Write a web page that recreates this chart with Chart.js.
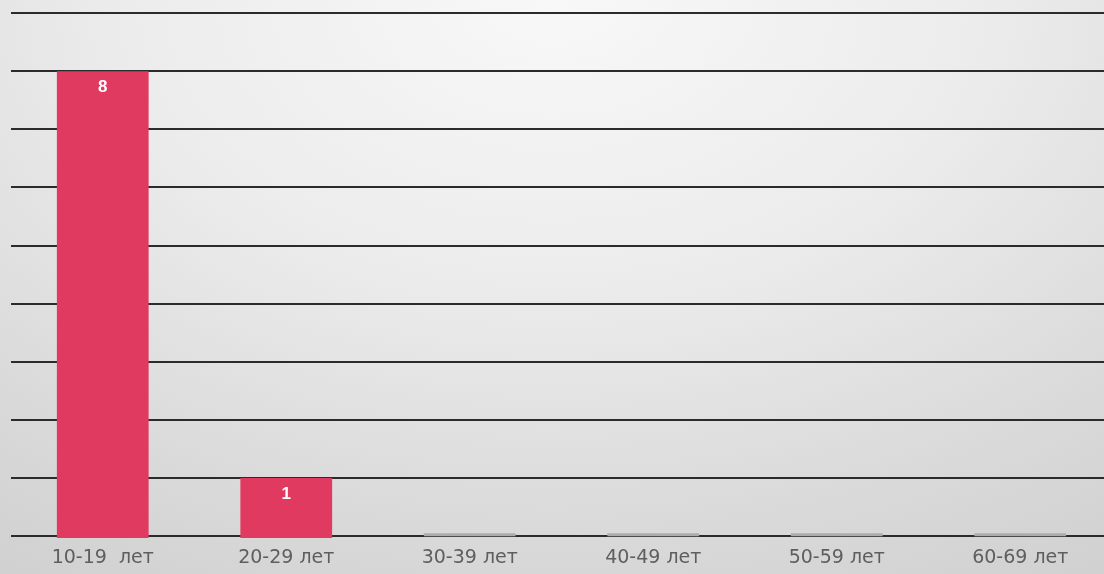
<!DOCTYPE html>
<html>
<head>
<meta charset="utf-8">
<script src="https://cdn.jsdelivr.net/npm/chart.js@4/dist/chart.umd.min.js"></script>
<style>
  html, body { margin: 0; padding: 0; overflow: hidden; }
  body {
    width: 1104px; height: 574px;
    background: radial-gradient(ellipse 110% 140% at 50% 0%, #f8f8f8 0%, #ececec 35%, #dadada 65%, #c9c9c9 100%);
  }
  #wrap { position: absolute; left: 0; top: 0; width: 1112px; height: 574px; }
</style>
</head>
<body>
<div id="wrap"><canvas id="ageChart"></canvas></div>
<script>
var AGE_LABELS = ["10-19  лет", "20-29 лет", "30-39 лет", "40-49 лет", "50-59 лет", "60-69 лет"];
var AGE_COUNTS = [8, 1, 0, 0, 0, 0];
var Y_MAX = 9;
var BAR_COLOR = 'rgb(225, 58, 96)';
var ZERO_COLOR = 'rgb(172, 172, 172)';

// draws the white count on top of each non-empty bar
var valueLabels = {
    id: 'valueLabels',
    afterDatasetsDraw(chart) {
        var ctx = chart.ctx;
        var meta = chart.getDatasetMeta(0);
        ctx.save();
        ctx.fillStyle = '#ffffff';
        ctx.font = 'bold 17px "Liberation Sans", Arial, sans-serif';
        ctx.textAlign = 'center';
        ctx.textBaseline = 'middle';
        meta.data.forEach((bar, i) => {
            var v = chart.data.datasets[0].data[i];
            if (v > 0) ctx.fillText(String(v), bar.x, bar.y + 16);
        });
        ctx.restore();
    }
};

new Chart(document.getElementById('ageChart'), {
    type: 'bar',
    data: {
        labels: AGE_LABELS,
        datasets: [{
            data: AGE_COUNTS,
            backgroundColor: ctx => ctx.raw === 0 ? ZERO_COLOR : BAR_COLOR,
            base: -0.03, // bars sit over the baseline like in the original
            minBarLength: 3,
            clip: 6,
            categoryPercentage: 1,
            barPercentage: 0.5
        }]
    },
    options: {
        responsive: true,
        maintainAspectRatio: false,
        animation: false,
        layout: { padding: { left: 11, top: 13, right: 0, bottom: 3 } },
        plugins: {
            legend: { display: false },
            tooltip: { enabled: false }
        },
        scales: {
            x: {
                grid: { display: false },
                border: { display: false },
                ticks: {
                    color: '#5e5e5e',
                    padding: 2,
                    font: { family: '"DejaVu Sans", sans-serif', size: 19 }
                }
            },
            y: {
                min: 0,
                max: Y_MAX,
                ticks: { display: false, stepSize: 1 },
                border: { display: false },
                grid: { color: '#2b2b2b', lineWidth: 2, drawTicks: false }
            }
        }
    },
    plugins: [valueLabels]
});
</script>
</body>
</html>
